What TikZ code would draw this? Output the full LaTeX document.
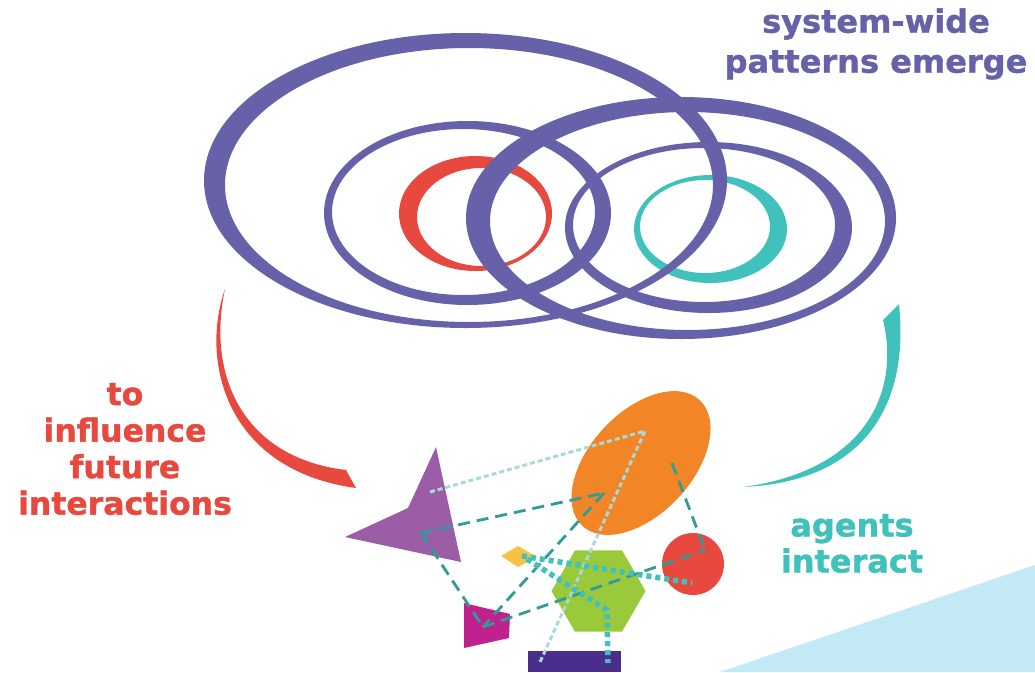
\documentclass[tikz,border=0pt]{standalone}
\usepackage{fontspec}
\setmainfont{DejaVu Sans}[BoldFeatures={FakeBold=1.2}]
\definecolor{purp}{HTML}{6761AA}
\definecolor{rred}{HTML}{E8493F}
\definecolor{teal2}{HTML}{41C1BC}
\definecolor{orng}{HTML}{F28526}
\definecolor{grn}{HTML}{9BC93C}
\definecolor{mag}{HTML}{C0218F}
\definecolor{dpurp}{HTML}{4B2D8B}
\definecolor{tri}{HTML}{9B5EA6}
\definecolor{yel}{HTML}{F6C244}
\definecolor{lblue}{HTML}{C3E9F6}
\definecolor{dkteal}{HTML}{2F9C97}
\definecolor{ltteal}{HTML}{A8DADB}
\tikzset{
  ring/.style={even odd rule},
  dk/.style={draw=dkteal, line width=2.8pt, dash pattern=on 12pt off 7pt},
  lt/.style={draw=ltteal, line width=3pt, dash pattern=on 5pt off 3pt},
  td/.style={draw=teal2, line width=5.5pt, dash pattern=on 5pt off 4pt},
  lbl/.style={font=\bfseries, inner sep=0pt, align=center}
}
\begin{document}
\begin{tikzpicture}[x=1pt,y=-1pt]
\useasboundingbox (0,0) rectangle (1035,672);
% background light blue wedge
\fill[lblue] (720,672) -- (1035,565) -- (1035,672) -- cycle;
% red and teal rings
\fill[rred, ring] (475.5,213.5) ellipse [x radius=76.5, y radius=57.5] (481.5,217) ellipse [x radius=64.5, y radius=49];
\fill[teal2, ring] (710.5,229) ellipse [x radius=76.5, y radius=54] (705,226.5) ellipse [x radius=65, y radius=46.5];
% purple rings
\fill[purp, ring] (467.5,213) ellipse [x radius=143.5, y radius=92] (463.5,212) ellipse [x radius=131.5, y radius=83];
\fill[purp, ring] (708.5,227.5) ellipse [x radius=143.5, y radius=85.5] (704,225) ellipse [x radius=131, y radius=77];
\fill[purp, ring] (681,218) ellipse [x radius=215, y radius=121] (687.5,221) ellipse [x radius=197.5, y radius=109];
\fill[purp, ring] (465.5,180.5) ellipse [x radius=261.5, y radius=147.5] (469,185) ellipse [x radius=244, y radius=137];
% curved arrows
\fill[rred] (225,289) .. controls (200,360) and (225,470) .. (356,488) -- (346,470)
  .. controls (245,458) and (206,378) .. (225,289) -- cycle;
\fill[teal2] (743,487) .. controls (860,482) and (910,410) .. (899,304) -- (883,320)
  .. controls (900,390) and (868,470) .. (743,487) -- cycle;
% agents
\fill[tri] (436,447) -- (408,508) -- (345,537) -- (461,562) -- cycle;
\fill[orng, rotate around={47:(641,463)}] (641,463) ellipse [x radius=86, y radius=51];
\fill[rred] (693,564) circle [radius=31];
\fill[grn] (551.5,591) -- (575,550.3) -- (622,550.3) -- (645.5,591) -- (622,631.7) -- (575,631.7) -- cycle;
\fill[yel] (501,556) -- (518,546) -- (537,557) -- (518,567) -- cycle;
\fill[mag] (464,603) -- (510,614) -- (509,638) -- (464,648) -- cycle;
\fill[dpurp] (528,651) rectangle (621,672);
% connector points
\coordinate (t1) at (421,533);
\coordinate (o1) at (604,493);
\coordinate (o2) at (672,463);
\coordinate (m1) at (483,627);
\coordinate (r1) at (705,550);
\coordinate (p1) at (430,492);
\coordinate (p2) at (645,431);
\coordinate (p3) at (540,662);
\coordinate (d1) at (522,556);
\coordinate (c1) at (692,583);
\coordinate (d2) at (527,559);
\coordinate (h1) at (607,610);
\coordinate (b1) at (608,663);
\draw[lt] (p1) -- (p2) -- (p3);
\draw[dk] (t1) -- (o1);
\draw[dk] (t1) -- (m1);
\draw[dk] (o1) -- (m1);
\draw[dk] (m1) -- (r1);
\draw[dk] (o2) -- (r1);
\draw[td] (d1) -- (c1);
\draw[td] (d2) -- (h1) -- (b1);
% labels
\node[lbl, text=purp, font=\bfseries\fontsize{32}{40}\selectfont] (lp) at (876,44) {system-wide\\patterns emerge};
\node[lbl, text=rred, font=\bfseries\fontsize{31.5}{36.5}\selectfont] (lr) at (125,449) {to\\influence\\future\\interactions};
\node[lbl, text=teal2, font=\bfseries\fontsize{32}{36}\selectfont] (lt2) at (852,543.5) {agents\\interact};
\end{tikzpicture}
\end{document}
